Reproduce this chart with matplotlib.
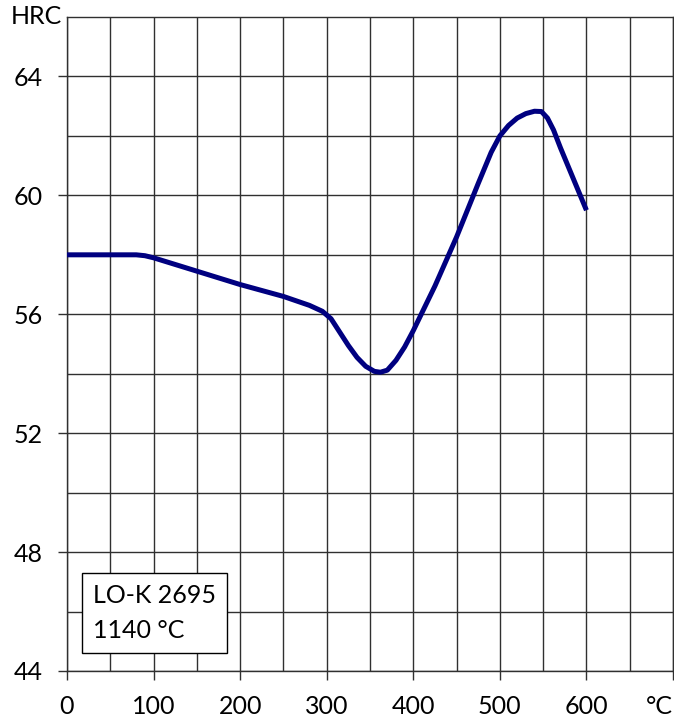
import numpy as np
import matplotlib.pyplot as plt

plt.rcParams['font.family'] = ['Lato', 'DejaVu Sans']

# 템퍼링 온도 (°C) 와 경도 (HRC)
temp = [0, 50, 80, 90, 100, 150, 200, 250, 280, 295, 305, 315, 325, 335, 345, 355,
        362, 370, 380, 390, 400, 425, 450, 475, 490, 500, 510, 520, 530, 540,
        548, 555, 562, 570, 585, 600]
hrc = [58.0, 58.0, 58.0, 57.97, 57.9, 57.45, 57.0, 56.6, 56.3, 56.1, 55.85, 55.4,
       54.95, 54.55, 54.25, 54.08, 54.05, 54.12, 54.45, 54.9, 55.45, 56.95, 58.6,
       60.4, 61.45, 62.0, 62.35, 62.6, 62.75, 62.83, 62.82, 62.6, 62.2, 61.6,
       60.55, 59.5]

x_ticks = [0, 100, 200, 300, 400, 500, 600, 700]
x_labels = ['0', '100', '200', '300', '400', '500', '600', '°C']
y_ticks = [44, 48, 52, 56, 60, 64]
box_text = 'LO-K 2695\n1140 °C'

fig = plt.figure(figsize=(6.74, 7.22), dpi=100)
ax = fig.add_axes([67 / 674, 51 / 722, 606 / 674, 654 / 722])

ax.plot(temp, hrc, color='#000080', linewidth=3.6, solid_joinstyle='round',
        solid_capstyle='butt', zorder=3)

ax.set_xlim(0, 700)
ax.set_ylim(44, 66)
ax.set_xticks(x_ticks)
ax.set_xticklabels(x_labels)
ax.set_xticks(np.arange(50, 700, 100), minor=True)
ax.set_yticks(y_ticks)
ax.set_yticks(np.arange(46, 66, 4), minor=True)
ax.get_xticklabels()[-1].set_horizontalalignment('right')

ax.grid(True, which='both', color='#303030', linewidth=1.0)
ax.set_axisbelow(True)
ax.tick_params(which='major', length=6.5, width=1.0, color='#303030', pad=11,
               labelsize=18)
ax.tick_params(which='minor', length=0)
for s in ax.spines.values():
    s.set_color('#303030')
    s.set_linewidth(1.0)

ax.text(-0.009, 1.0, 'HRC', transform=ax.transAxes, ha='right', va='center',
        fontsize=18)

ax.text(0.043, 0.045, box_text, transform=ax.transAxes, ha='left', va='bottom',
        fontsize=18, linespacing=1.6, zorder=4,
        bbox=dict(boxstyle='square,pad=0.45', facecolor='white',
                  edgecolor='black', linewidth=1.0))

fig.savefig('out.png', dpi=100)
